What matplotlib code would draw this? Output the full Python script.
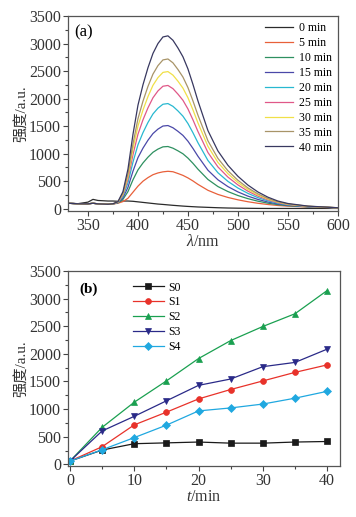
import matplotlib
matplotlib.use("Agg")
import matplotlib.pyplot as plt
from matplotlib.ticker import MultipleLocator

plt.rcParams["font.family"] = ["Liberation Serif", "Noto Sans CJK SC"]
plt.rcParams["mathtext.fontset"] = "custom"
plt.rcParams["mathtext.it"] = "Liberation Serif:italic"
plt.rcParams["mathtext.rm"] = "Liberation Serif"

# (a) emission spectra at different irradiation times
wavelength = [330, 340, 350, 355, 360, 370, 375, 380, 385, 390, 395, 400, 405, 410,
              415, 420, 425, 430, 435, 440, 445, 450, 455, 460, 470, 480, 490, 500,
              510, 520, 530, 540, 550, 570, 600]
spec_0 = [100, 92, 120, 170, 150, 140, 140, 135, 140, 140, 135, 125, 115, 105,
          95, 85, 78, 70, 62, 55, 48, 42, 37, 32, 25, 18, 13, 10,
          8, 6, 5, 5, 5, 5, 5]
spec_5 = [100, 90, 88, 100, 88, 82, 86, 100, 130, 190, 300, 410, 500, 565,
          618, 650, 670, 680, 672, 640, 606, 560, 505, 443, 335, 260, 205, 162,
          127, 99, 77, 59, 47, 32, 16]
spec_10 = [100, 90, 88, 100, 88, 82, 87, 107, 171, 311, 525, 705, 831, 936,
           1025, 1083, 1124, 1130, 1100, 1052, 998, 920, 825, 719, 532, 403, 312, 240,
           183, 137, 101, 74, 55, 35, 16]
spec_15 = [100, 90, 88, 100, 88, 82, 87, 111, 198, 388, 681, 928, 1100, 1244,
           1365, 1446, 1502, 1511, 1471, 1406, 1332, 1227, 1096, 954, 700, 526, 402, 306,
           229, 169, 122, 87, 63, 37, 16]
spec_20 = [100, 90, 88, 100, 88, 82, 88, 116, 225, 470, 845, 1161, 1381, 1566,
           1721, 1826, 1898, 1910, 1860, 1777, 1681, 1548, 1381, 1200, 877, 654, 497, 376,
           279, 202, 143, 100, 71, 40, 17]
spec_25 = [100, 90, 88, 100, 88, 82, 89, 120, 248, 536, 980, 1353, 1614, 1832,
           2015, 2140, 2225, 2239, 2181, 2082, 1970, 1813, 1616, 1404, 1022, 760, 575, 433,
           319, 230, 161, 110, 77, 42, 17]
spec_30 = [100, 90, 88, 100, 88, 82, 89, 123, 265, 588, 1084, 1501, 1792, 2036,
           2241, 2381, 2476, 2491, 2427, 2317, 2191, 2017, 1797, 1560, 1134, 841, 636, 477,
           350, 251, 175, 119, 82, 44, 17]
spec_35 = [100, 90, 88, 100, 88, 82, 89, 125, 281, 634, 1178, 1634, 1953, 2221,
           2445, 2599, 2703, 2720, 2650, 2529, 2392, 2201, 1960, 1701, 1234, 915, 690, 517,
           378, 270, 187, 126, 87, 45, 18]
spec_40 = [100, 90, 88, 100, 88, 82, 90, 130, 310, 720, 1350, 1880, 2250, 2560,
           2820, 3000, 3120, 3140, 3060, 2920, 2760, 2540, 2260, 1960, 1420, 1050, 790, 590,
           430, 305, 210, 140, 95, 48, 18]
spec_labels = ["0 min", "5 min", "10 min", "15 min", "20 min",
               "25 min", "30 min", "35 min", "40 min"]
spec_colors = ["#2b2b2b", "#e8603a", "#2e9060", "#4a48a8", "#28b8d0",
               "#e05888", "#f0e048", "#a89468", "#383860"]

# (b) peak intensity vs time for samples S0-S4
times = [0, 5, 10, 15, 20, 25, 30, 35, 40]
s0 = [60, 260, 375, 390, 405, 385, 385, 405, 415]
s1 = [60, 320, 715, 945, 1185, 1355, 1510, 1665, 1800]
s2 = [60, 670, 1125, 1510, 1915, 2240, 2495, 2725, 3145]
s3 = [60, 605, 870, 1150, 1430, 1545, 1768, 1845, 2085]
s4 = [60, 265, 485, 710, 968, 1022, 1092, 1198, 1322]
sample_labels = ["S0", "S1", "S2", "S3", "S4"]
sample_colors = ["#1a1a1a", "#e8322a", "#1aa050", "#2a2a88", "#20a8e0"]
sample_markers = ["s", "o", "^", "v", "D"]

fig = plt.figure(figsize=(3.56, 5.17), dpi=100)
ax1 = fig.add_axes([0.191, 0.592, 0.758, 0.377])
ax2 = fig.add_axes([0.191, 0.099, 0.764, 0.377])

spectra = [spec_0, spec_5, spec_10, spec_15, spec_20, spec_25, spec_30, spec_35, spec_40]
for ys, lab, col in zip(spectra, spec_labels, spec_colors):
    ax1.plot(wavelength, ys, color=col, lw=0.9, label=lab)
ax1.set_xlim(330, 600)
ax1.set_ylim(-40, 3500)
ax1.xaxis.set_major_locator(MultipleLocator(50))
ax1.xaxis.set_minor_locator(MultipleLocator(25))
ax1.yaxis.set_major_locator(MultipleLocator(500))
ax1.yaxis.set_minor_locator(MultipleLocator(250))
ax1.set_xlabel(r"$\mathit{\lambda}$/nm", fontsize=11.5, labelpad=0)
ax1.set_ylabel("强度/a.u.", fontsize=11, labelpad=1)
ax1.text(0.025, 0.955, "(a)", transform=ax1.transAxes, fontsize=12, va="top")
ax1.legend(loc="upper right", frameon=False, fontsize=8.5, handlelength=2.4,
           labelspacing=0.25, borderaxespad=0.1, handletextpad=0.5)

series = [s0, s1, s2, s3, s4]
for ys, lab, col, mk in zip(series, sample_labels, sample_colors, sample_markers):
    ax2.plot(times, ys, color=col, lw=0.9, marker=mk, markersize=4.2,
             markeredgewidth=0.5, label=lab)
ax2.set_xlim(-0.3, 42)
ax2.set_ylim(-25, 3500)
ax2.xaxis.set_major_locator(MultipleLocator(10))
ax2.xaxis.set_minor_locator(MultipleLocator(5))
ax2.yaxis.set_major_locator(MultipleLocator(500))
ax2.yaxis.set_minor_locator(MultipleLocator(250))
ax2.set_xlabel(r"$\mathit{t}$/min", fontsize=11.5, labelpad=0)
ax2.set_ylabel("强度/a.u.", fontsize=11, labelpad=1)
ax2.text(0.04, 0.94, "(b)", transform=ax2.transAxes, fontsize=11,
         fontweight="bold", va="top")
ax2.legend(loc="upper left", bbox_to_anchor=(0.2, 1.0), frameon=False,
           fontsize=8.5, handlelength=2.6, labelspacing=0.25, handletextpad=0.4)

for ax in (ax1, ax2):
    for sp in ax.spines.values():
        sp.set_color("#555555")
        sp.set_linewidth(0.9)
    ax.tick_params(which="both", direction="out", colors="#444444",
                   labelcolor="#333333", labelsize=11.5, width=0.8)
    ax.tick_params(which="major", length=3.5, pad=1.5)
    ax.tick_params(which="minor", length=2)
    ax.xaxis.label.set_color("#333333")
    ax.yaxis.label.set_color("#333333")

fig.savefig("out.png", dpi=100)
